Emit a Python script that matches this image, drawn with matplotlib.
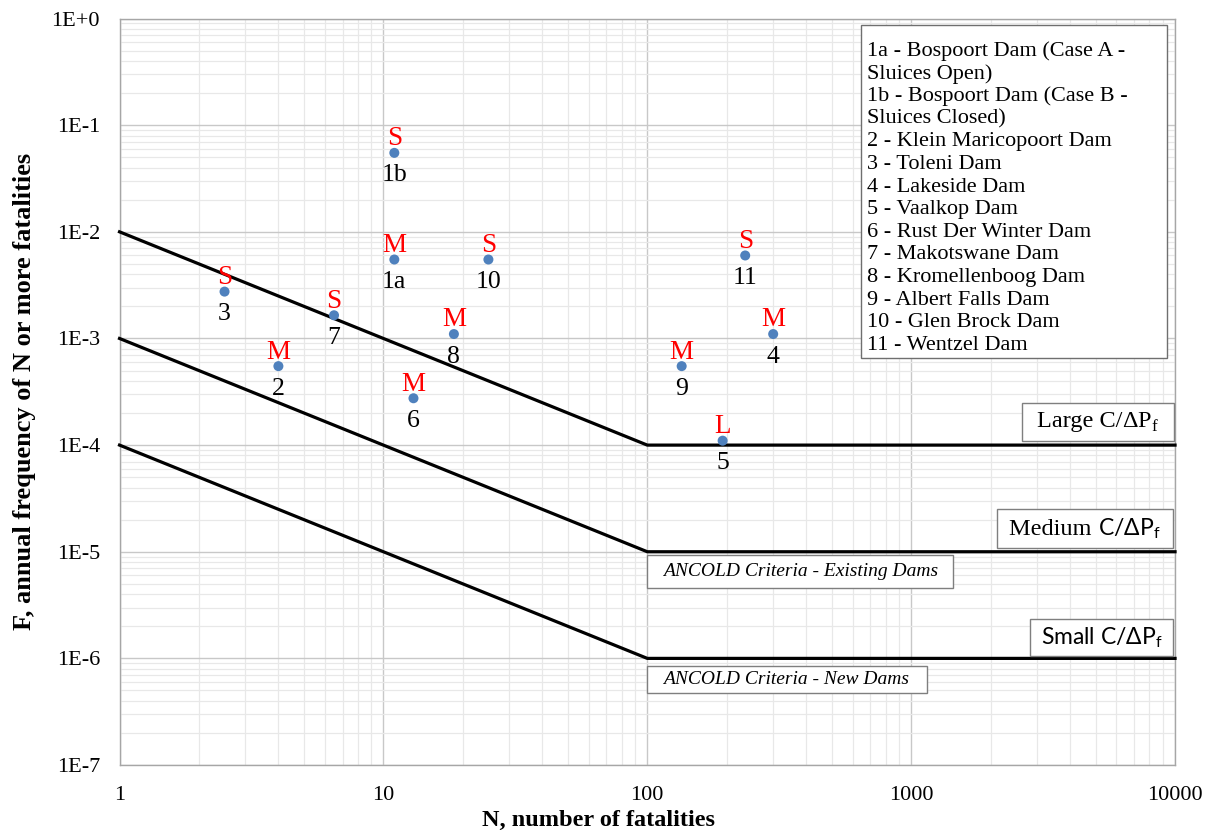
import matplotlib
matplotlib.use("Agg")
import matplotlib.pyplot as plt
from matplotlib.patches import Rectangle
from matplotlib.ticker import LogLocator, FixedLocator, FixedFormatter, NullFormatter
from matplotlib.offsetbox import TextArea, HPacker, AnnotationBbox

# ---- data -------------------------------------------------------------
dam_ids = ["1a", "1b", "2", "3", "4", "5", "6", "7", "8", "9", "10", "11"]
fatalities = [11, 11, 4, 2.5, 300, 193, 13, 6.5, 18.5, 135, 25, 235]
frequency = [5.5e-3, 5.5e-2, 5.5e-4, 2.75e-3, 1.1e-3, 1.1e-4, 2.75e-4,
             1.65e-3, 1.1e-3, 5.5e-4, 5.5e-3, 6.0e-3]
consequence = ["M", "S", "M", "S", "M", "L", "M", "S", "M", "M", "S", "S"]

dam_names = [
    "1a - Bospoort Dam (Case A -",
    "Sluices Open)",
    "1b - Bospoort Dam (Case B -",
    "Sluices Closed)",
    "2 - Klein Maricopoort Dam",
    "3 - Toleni Dam",
    "4 - Lakeside Dam",
    "5 - Vaalkop Dam",
    "6 - Rust Der Winter Dam",
    "7 - Makotswane Dam",
    "8 - Kromellenboog Dam",
    "9 - Albert Falls Dam",
    "10 - Glen Brock Dam",
    "11 - Wentzel Dam",
]

# ANCOLD limit curves (N, F vertices)
limit_n = [1, 100, 10000]
limit_large = [1e-2, 1e-4, 1e-4]
limit_medium = [1e-3, 1e-5, 1e-5]
limit_small = [1e-4, 1e-6, 1e-6]

x_ticks = [1, 10, 100, 1000, 10000]
x_tick_labels = ["1", "10", "100", "1000", "10000"]
y_ticks = [1e-7, 1e-6, 1e-5, 1e-4, 1e-3, 1e-2, 1e-1, 1]
y_tick_labels = ["1E-7", "1E-6", "1E-5", "1E-4", "1E-3", "1E-2", "1E-1", "1E+0"]

# ---- styling ----------------------------------------------------------
SERIF = "Liberation Serif"
SANS = ["Lato", "Open Sans", "DejaVu Sans"]
plt.rcParams["font.family"] = [SERIF, "DejaVu Serif"]

fig = plt.figure(figsize=(12.11, 8.35), dpi=100)
ax = fig.add_axes([0.0987, 0.0838, 0.8716, 0.894])

ax.set_xscale("log")
ax.set_yscale("log")
ax.set_xlim(1, 10000)
ax.set_ylim(1e-7, 1)

ax.xaxis.set_major_locator(FixedLocator(x_ticks))
ax.xaxis.set_major_formatter(FixedFormatter(x_tick_labels))
ax.yaxis.set_major_locator(FixedLocator(y_ticks))
ax.yaxis.set_major_formatter(FixedFormatter(y_tick_labels))
ax.xaxis.set_minor_locator(LogLocator(base=10, subs=range(2, 10), numticks=20))
ax.yaxis.set_minor_locator(LogLocator(base=10, subs=range(2, 10), numticks=20))
ax.xaxis.set_minor_formatter(NullFormatter())
ax.yaxis.set_minor_formatter(NullFormatter())

ax.tick_params(which="both", length=0)
ax.tick_params(axis="x", which="major", labelsize=16, pad=15)
ax.tick_params(axis="y", which="major", labelsize=16, pad=14)

ax.grid(True, which="major", color="#c8c8c8", linewidth=1.0, zorder=0)
ax.grid(True, which="minor", color="#e8e8e8", linewidth=0.9, zorder=0)
ax.set_axisbelow(True)
for sp in ax.spines.values():
    sp.set_color("#a6a6a6")
    sp.set_linewidth(1.0)

ax.set_ylabel("F, annual frequency of N or more fatalities",
              fontsize=19, fontweight="bold")
ax.yaxis.set_label_coords(-0.079, 0.5)
fig.text(0.494, 0.0108, "N, number of fatalities", fontsize=17.5,
         fontweight="bold", ha="center", va="baseline")

# ---- limit curves -----------------------------------------------------
for f_vals in (limit_large, limit_medium, limit_small):
    ax.plot(limit_n, f_vals, color="black", linewidth=2.3,
            solid_joinstyle="round", zorder=3, clip_on=False)

# ---- dam points -------------------------------------------------------
ax.scatter(fatalities, frequency, s=52, color="#4f81bd", zorder=5,
           edgecolors="none")
for n, f, lab, cat in zip(fatalities, frequency, dam_ids, consequence):
    ax.annotate(cat, (n, f), xytext=(0, 5.5), textcoords="offset points",
                ha="center", va="baseline", fontsize=19.5,
                color="#ff0000", zorder=6)
    ax.annotate(lab, (n, f), xytext=(0, -20.5), textcoords="offset points",
                ha="center", va="baseline", fontsize=18.5, color="black",
                zorder=6)

# ---- annotation boxes -------------------------------------------------
def framed_rect(x0, y0, x1, y1):
    ax.add_patch(Rectangle((x0, y0), x1 - x0, y1 - y0, transform=ax.transAxes,
                           facecolor="white", edgecolor="#7f7f7f",
                           linewidth=1.0, zorder=7, clip_on=False))


def centered_label(parts, x0, y0, x1, y1):
    areas = [TextArea(txt, textprops=props) for txt, props in parts]
    packed = HPacker(children=areas, align="baseline", pad=0, sep=0)
    ab = AnnotationBbox(packed, ((x0 + x1) / 2, (y0 + y1) / 2),
                        xycoords="axes fraction", frameon=False,
                        box_alignment=(0.5, 0.5), zorder=8,
                        annotation_clip=False)
    ax.add_artist(ab)


serif_big = dict(family=SERIF, size=17.5, color="black")
sans_big = dict(family=SANS, size=16.5, color="black")
sub = r"C/ΔP$_\mathregular{f}$"

# Large
box = (0.855, 0.434, 0.999, 0.485)
framed_rect(*box)
centered_label([("Large C/", serif_big), ("ΔP$_\\mathregular{f}$", serif_big)], *box)
# Medium
box = (0.831, 0.2907, 0.998, 0.343)
framed_rect(*box)
centered_label([("Medium ", serif_big), (sub, sans_big)], *box)
# Small
box = (0.8626, 0.146, 0.998, 0.1956)
framed_rect(*box)
centered_label([("Small " + sub, sans_big)], *box)

# criteria captions
for text, box in (("ANCOLD Criteria - Existing Dams", (0.4998, 0.237, 0.7897, 0.281)),
                  ("ANCOLD Criteria - New Dams", (0.4998, 0.0965, 0.765, 0.133))):
    framed_rect(*box)
    ax.text(box[0] + 0.0152, (box[1] + box[3]) / 2, text, transform=ax.transAxes,
            ha="left", va="center", fontsize=14, fontstyle="italic",
            color="black", zorder=8)

# dam name list
lx0, ly0, lx1, ly1 = 0.7022, 0.5452, 0.9924, 0.9917
ax.add_patch(Rectangle((lx0, ly0), lx1 - lx0, ly1 - ly0, transform=ax.transAxes,
                       facecolor="white", edgecolor="#6f6f6f", linewidth=1.0,
                       zorder=7))
line_step = 22.64 / 746.5
first_line = (765 - 48.7) / 746.5
for i, name in enumerate(dam_names):
    ax.text(lx0 + 0.0058, first_line - i * line_step, name,
            transform=ax.transAxes, ha="left", va="center_baseline",
            fontsize=16, color="black", zorder=8)

fig.savefig("out.png", dpi=100)
